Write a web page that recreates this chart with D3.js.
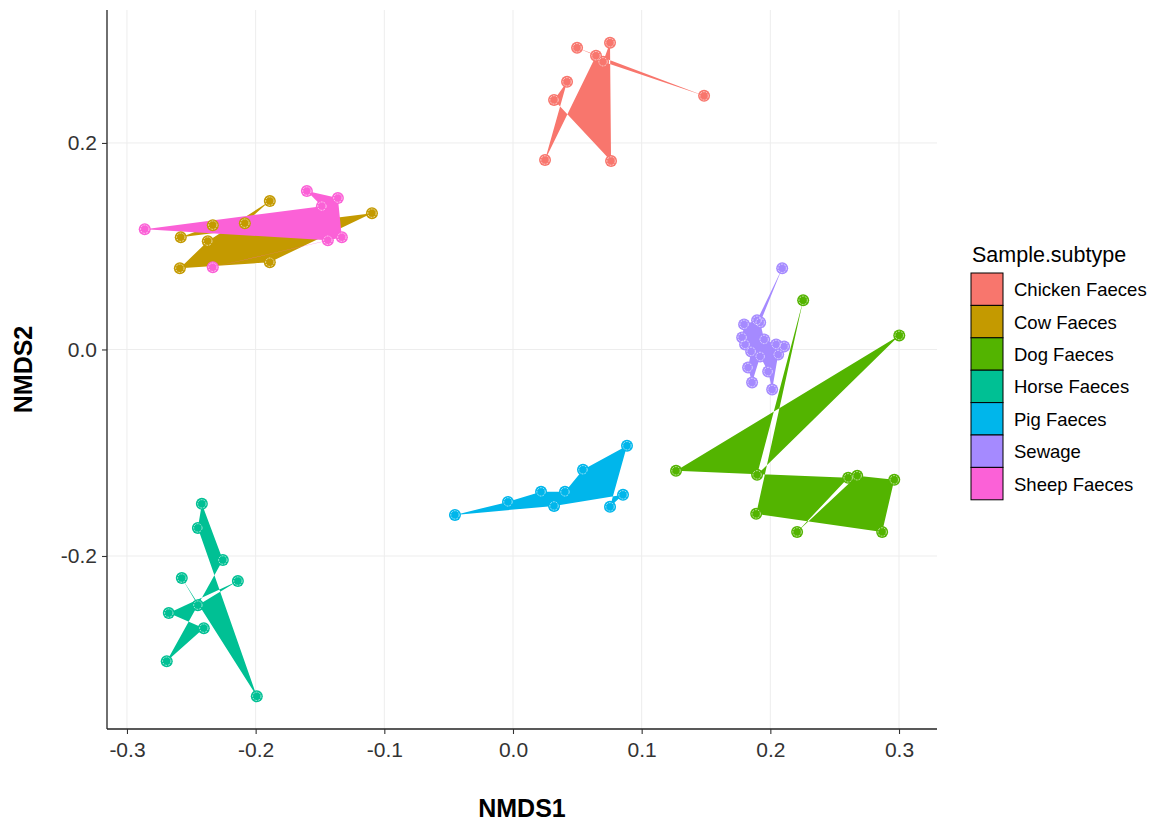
<!DOCTYPE html>
<html>
<head>
<meta charset="utf-8">
<script src="https://cdn.jsdelivr.net/npm/d3@7"></script>
<style>
  body { margin: 0; background: #fff; }
  text { font-family: Arial, "Liberation Sans", sans-serif; }
</style>
</head>
<body>
<svg id="chart" width="1151" height="823"></svg>
<script>
// NMDS ordination, one polygon per sample subtype (points in data order)
const subtypes = ["Chicken Faeces", "Cow Faeces", "Dog Faeces", "Horse Faeces", "Pig Faeces", "Sewage", "Sheep Faeces"];
const colors = ["#F8766D", "#C49A00", "#53B400", "#00C094", "#00B6EB", "#A58AFF", "#FB61D7"];

const chicken = [[0.0420, 0.2592], [0.0319, 0.2417], [0.0762, 0.1825], [0.0754, 0.2971], [0.0700, 0.2786],
                 [0.1485, 0.2456], [0.0498, 0.2922], [0.0645, 0.2845], [0.0249, 0.1835]];
const cow = [[-0.2589, 0.0786], [-0.1890, 0.0845], [-0.1096, 0.1320], [-0.2582, 0.1087],
             [-0.2333, 0.1204], [-0.2084, 0.1223], [-0.1890, 0.1437], [-0.2372, 0.1049]];
const dog = [[0.1267, -0.1175], [0.3002, 0.0136], [0.1897, -0.1214], [0.2255, 0.0476], [0.1890, -0.1592],
             [0.2869, -0.1767], [0.2963, -0.1262], [0.2675, -0.1223], [0.2208, -0.1767], [0.2605, -0.1243]];
const horse = [[-0.2418, -0.1495], [-0.2449, -0.1728], [-0.1991, -0.3359], [-0.2574, -0.2214], [-0.2449, -0.2476],
               [-0.2138, -0.2243], [-0.2675, -0.2553], [-0.2403, -0.2699], [-0.2691, -0.3019], [-0.2255, -0.2039]];
const pig = [[-0.0451, -0.1602], [-0.0039, -0.1476], [0.0218, -0.1379], [0.0404, -0.1379], [0.0544, -0.1165],
             [0.0886, -0.0932], [0.0754, -0.1524], [0.0855, -0.1408], [0.0319, -0.1515]];
const sewage = [[0.2092, 0.0786], [0.1897, 0.0282], [0.1796, 0.0243], [0.1781, 0.0117], [0.1804, 0.0049],
                [0.1851, -0.0019], [0.1827, -0.0175], [0.1858, -0.0320], [0.1921, -0.0068], [0.1983, -0.0214],
                [0.2014, -0.0388], [0.2061, -0.0049], [0.2107, 0.0029], [0.2045, 0.0049], [0.1952, 0.0097],
                [0.1921, 0.0262]];
const sheep = [[-0.2862, 0.1165], [-0.1485, 0.1388], [-0.1602, 0.1534], [-0.1361, 0.1466],
               [-0.1330, 0.1087], [-0.2333, 0.0796], [-0.1439, 0.1058]];

const xTicks = [-0.3, -0.2, -0.1, 0.0, 0.1, 0.2, 0.3];
const yTicks = [-0.2, 0.0, 0.2];

const groups = [chicken, cow, dog, horse, pig, sewage, sheep];

// panel box
const panel = {left: 107, right: 937, top: 10, bottom: 729};

const svg = d3.select("#chart");

// ggplot style 5% expansion of the data range
const allPts = groups.flat();
const expand = (ext) => { const d = (ext[1] - ext[0]) * 0.05; return [ext[0] - d, ext[1] + d]; };

const x = d3.scaleLinear().domain(expand(d3.extent(allPts, d => d[0]))).range([panel.left, panel.right]);
const y = d3.scaleLinear().domain(expand(d3.extent(allPts, d => d[1]))).range([panel.bottom, panel.top]);

const fmt = d => d.toFixed(1);

// grid lines
const grid = svg.append("g");
grid.selectAll(".gx").data(xTicks).enter().append("line")
    .attr("x1", d => x(d)).attr("x2", d => x(d))
    .attr("y1", panel.top).attr("y2", panel.bottom)
    .attr("stroke", "#ededed").attr("stroke-width", 1);
grid.selectAll(".gy").data(yTicks).enter().append("line")
    .attr("x1", panel.left).attr("x2", panel.right)
    .attr("y1", d => y(d)).attr("y2", d => y(d))
    .attr("stroke", "#ededed").attr("stroke-width", 1);

// polygons, drawn in group order, even-odd fill like the windows device
const line = d3.line().x(d => x(d[0])).y(d => y(d[1]));
svg.append("g").selectAll("path")
    .data(groups).enter().append("path")
    .attr("d", d => line(d) + "Z")
    .attr("fill", (d, i) => colors[i])
    .attr("fill-rule", "evenodd")
    .attr("stroke", "none");

// points on top
const pts = svg.append("g");
groups.forEach((g, i) => {
    const pg = pts.append("g");
    pg.selectAll("circle.o").data(g).enter().append("circle")
        .attr("cx", d => x(d[0])).attr("cy", d => y(d[1]))
        .attr("r", 6)
        .attr("fill", colors[i]);
    pg.selectAll("circle.w").data(g).enter().append("circle")
        .attr("cx", d => x(d[0])).attr("cy", d => y(d[1]))
        .attr("r", 4.2)
        .attr("fill", "none")
        .attr("stroke", "#fff")
        .attr("stroke-opacity", 0.6)
        .attr("stroke-dasharray", "2,1")
        .attr("stroke-width", 1);
});

// axes
const xAxis = d3.axisBottom(x).tickValues(xTicks).tickFormat(fmt).tickSize(5).tickSizeOuter(0).tickPadding(8);
const yAxis = d3.axisLeft(y).tickValues(yTicks).tickFormat(fmt).tickSize(5).tickSizeOuter(0).tickPadding(5);

const gx = svg.append("g").attr("transform", "translate(0," + panel.bottom + ")").call(xAxis);
const gy = svg.append("g").attr("transform", "translate(" + panel.left + ",0)").call(yAxis);

[gx, gy].forEach(g => {
    g.select(".domain").attr("stroke", "#222").attr("stroke-width", 1.3);
    g.selectAll(".tick line").attr("stroke", "#333").attr("stroke-width", 1.1);
    g.selectAll(".tick text").attr("fill", "#333").style("font-size", "21px")
        .style("font-family", "Arial, 'Liberation Sans', sans-serif");
});
gx.select(".domain").attr("d", "M" + panel.left + ",0H" + panel.right);
gy.select(".domain").attr("d", "M0," + panel.top + "V" + panel.bottom);

// axis titles
svg.append("text")
    .attr("x", (panel.left + panel.right) / 2).attr("y", 817)
    .attr("text-anchor", "middle")
    .style("font-size", "25px").style("font-weight", "bold")
    .attr("fill", "#000")
    .text("NMDS1");

svg.append("text")
    .attr("transform", "translate(32," + (panel.top + panel.bottom) / 2 + ") rotate(-90)")
    .attr("text-anchor", "middle")
    .style("font-size", "25px").style("font-weight", "bold")
    .attr("fill", "#000")
    .text("NMDS2");

// legend
const legend = svg.append("g");
const keyH = 32.4, keyTop = 273;
legend.append("text")
    .attr("x", 972).attr("y", 262)
    .style("font-size", "21.5px")
    .attr("fill", "#000")
    .text("Sample.subtype");

const items = legend.selectAll(".item").data(subtypes).enter().append("g")
    .attr("transform", (d, i) => "translate(971," + (keyTop + i * keyH) + ")");
items.append("rect")
    .attr("width", 32).attr("height", keyH)
    .attr("fill", (d, i) => colors[i])
    .attr("stroke", "#000").attr("stroke-width", 1);
items.append("text")
    .attr("x", 43).attr("y", keyH / 2 + 7)
    .style("font-size", "18.5px")
    .attr("fill", "#000")
    .text(d => d);
</script>
</body>
</html>
